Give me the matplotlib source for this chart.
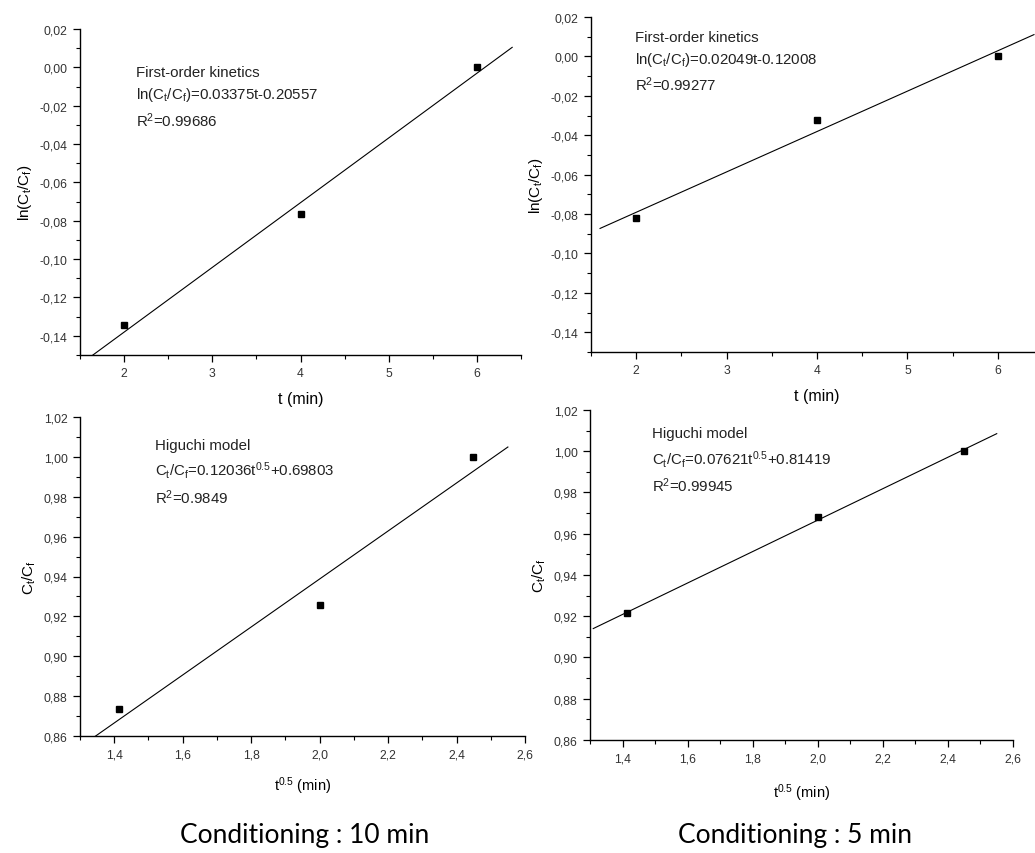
import numpy as np
import matplotlib
matplotlib.use("Agg")
import matplotlib.pyplot as plt
from matplotlib.ticker import FuncFormatter, MultipleLocator

plt.rcParams['font.family'] = ['Liberation Sans', 'DejaVu Sans']
plt.rcParams['mathtext.default'] = 'regular'

# ---------------- DATA ----------------
# first-order kinetics, ln(Ct/Cf) vs t
t_min = [2, 4, 6]
ln_10 = [-0.1343, -0.0765, 0.0002]
ln_5 = [-0.0821, -0.0324, 0.0002]
fo_fit_10 = (0.03375, -0.20557)
fo_fit_5 = (0.02049, -0.12008)

# Higuchi model, Ct/Cf vs t^0.5
sqrt_t = [1.414, 2.0, 2.449]
ratio_10 = [0.8736, 0.9258, 1.000]
ratio_5 = [0.9217, 0.9683, 1.000]
hig_fit_10 = (0.12036, 0.69803)
hig_fit_5 = (0.07621, 0.81419)

W, H = 1035, 854
fig = plt.figure(figsize=(W / 100, H / 100), dpi=100)


def px_axes(x0, x1, ytop, ybot):
    return fig.add_axes([x0 / W, 1 - ybot / H, (x1 - x0) / W, (ybot - ytop) / H])


def comma_fmt(nd):
    return FuncFormatter(lambda v, p: f"{v:.{nd}f}".replace('.', ','))


def style(ax, xnd):
    for s in ['top', 'right']:
        ax.spines[s].set_visible(False)
    for s in ['left', 'bottom']:
        ax.spines[s].set_linewidth(1.0)
    ax.tick_params(which='major', direction='out', length=5, width=0.9,
                   labelsize=8.7, labelcolor='#333333', pad=4)
    ax.tick_params(which='minor', direction='out', length=3, width=0.8)
    ax.yaxis.set_major_formatter(comma_fmt(2))
    ax.xaxis.set_major_formatter(comma_fmt(xnd))


def fit_line(ax, fit, x0, x1):
    xs = np.linspace(x0, x1, 50)
    ax.plot(xs, fit[0] * xs + fit[1], color='black', lw=0.8)


ANN = dict(fontsize=10.8, va='top', ha='left', linespacing=1.45, color='#222222')

# ---------------- TOP LEFT ----------------
ax1 = px_axes(80, 521, 30, 356)
ax1.plot(t_min, ln_10, 's', color='black', ms=4.5)
fit_line(ax1, fo_fit_10, 1.6, 6.4)
ax1.set_xlim(1.5, 6.5)
ax1.set_ylim(-0.15, 0.02)
ax1.xaxis.set_major_locator(MultipleLocator(1))
ax1.xaxis.set_minor_locator(MultipleLocator(0.5))
ax1.yaxis.set_major_locator(MultipleLocator(0.02))
ax1.yaxis.set_minor_locator(MultipleLocator(0.01))
style(ax1, 0)
ax1.set_xlabel('t (min)', fontsize=11.5, labelpad=8)
ax1.set_ylabel('ln(C$_t$/C$_f$)', fontsize=11, labelpad=4)
ax1.text(2.14, 0.001, 'First-order kinetics\nln(C$_t$/C$_f$)=0.03375t-0.20557\nR$^2$=0.99686', **ANN)

# ---------------- TOP RIGHT ----------------
ax2 = px_axes(591, 1043, 18, 353)
ax2.plot(t_min, ln_5, 's', color='black', ms=4.5)
fit_line(ax2, fo_fit_5, 1.6, 6.4)
ax2.set_xlim(1.5, 6.5)
ax2.set_ylim(-0.15, 0.02)
ax2.xaxis.set_major_locator(MultipleLocator(1))
ax2.xaxis.set_minor_locator(MultipleLocator(0.5))
ax2.yaxis.set_major_locator(MultipleLocator(0.02))
ax2.yaxis.set_minor_locator(MultipleLocator(0.01))
style(ax2, 0)
ax2.set_xlabel('t (min)', fontsize=11.5, labelpad=8)
ax2.set_ylabel('ln(C$_t$/C$_f$)', fontsize=11, labelpad=4)
ax2.text(1.99, 0.0135, 'First-order kinetics\nln(C$_t$/C$_f$)=0.02049t-0.12008\nR$^2$=0.99277', **ANN)

# ---------------- BOTTOM LEFT ----------------
ax3 = px_axes(80, 525, 418, 737)
ax3.plot(sqrt_t, ratio_10, 's', color='black', ms=4.5)
fit_line(ax3, hig_fit_10, 1.345, 2.55)
ax3.set_xlim(1.3, 2.6)
ax3.set_ylim(0.86, 1.02)
ax3.xaxis.set_major_locator(MultipleLocator(0.2))
ax3.xaxis.set_minor_locator(MultipleLocator(0.1))
ax3.yaxis.set_major_locator(MultipleLocator(0.02))
ax3.yaxis.set_minor_locator(MultipleLocator(0.01))
style(ax3, 1)
ax3.set_xlabel('t$^{0.5}$ (min)', fontsize=10.5, labelpad=10)
ax3.set_ylabel('C$_t$/C$_f$', fontsize=11, labelpad=4)
ax3.text(1.52, 1.0095, 'Higuchi model\nC$_t$/C$_f$=0.12036t$^{0.5}$+0.69803\nR$^2$=0.9849', **ANN)

# ---------------- BOTTOM RIGHT ----------------
ax4 = px_axes(590, 1013, 411, 741)
ax4.plot(sqrt_t, ratio_5, 's', color='black', ms=4.5)
fit_line(ax4, hig_fit_5, 1.31, 2.55)
ax4.set_xlim(1.3, 2.6)
ax4.set_ylim(0.86, 1.02)
ax4.xaxis.set_major_locator(MultipleLocator(0.2))
ax4.xaxis.set_minor_locator(MultipleLocator(0.1))
ax4.yaxis.set_major_locator(MultipleLocator(0.02))
ax4.yaxis.set_minor_locator(MultipleLocator(0.01))
style(ax4, 1)
ax4.set_xlabel('t$^{0.5}$ (min)', fontsize=10.5, labelpad=12)
ax4.set_ylabel('C$_t$/C$_f$', fontsize=11, labelpad=4)
ax4.text(1.49, 1.012, 'Higuchi model\nC$_t$/C$_f$=0.07621t$^{0.5}$+0.81419\nR$^2$=0.99945', **ANN)

# captions
fig.text(305 / W, 1 - 836 / H, 'Conditioning : 10 min', family='Lato', fontsize=19,
         ha='center', va='center')
fig.text(795 / W, 1 - 836 / H, 'Conditioning : 5 min', family='Lato', fontsize=19,
         ha='center', va='center')

fig.savefig('out.png', dpi=100)
